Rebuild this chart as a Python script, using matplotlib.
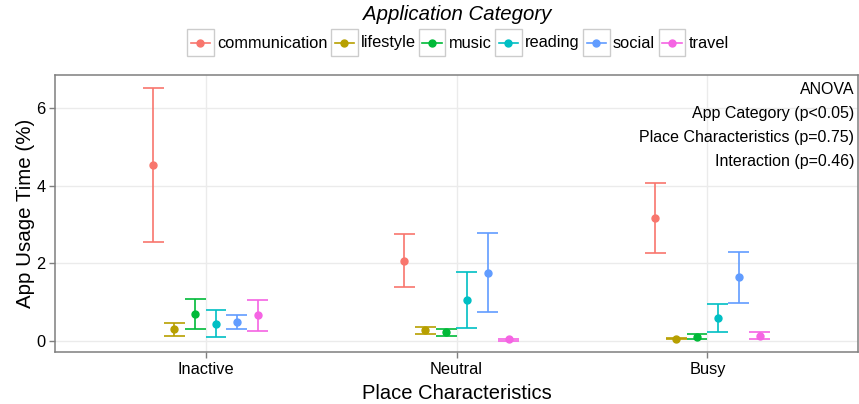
import matplotlib
matplotlib.use("Agg")
import matplotlib.pyplot as plt
from matplotlib.patches import Rectangle
import numpy as np

plt.rcParams['font.family'] = ['Liberation Sans', 'DejaVu Sans']

# Data (mean with lower / upper error bar)
places = ['Inactive', 'Neutral', 'Busy']
categories = ['communication', 'lifestyle', 'music', 'reading', 'social', 'travel']
colors = ['#F8766D', '#B79F00', '#00BA38', '#00BFC4', '#619CFF', '#F564E3']

means = {
    'communication': [4.53, 2.07, 3.17],
    'lifestyle':     [0.30, 0.28, 0.06],
    'music':         [0.70, 0.23, 0.11],
    'reading':       [0.44, 1.05, 0.59],
    'social':        [0.50, 1.76, 1.64],
    'travel':        [0.66, 0.04, 0.13],
}
lower = {
    'communication': [2.54, 1.39, 2.27],
    'lifestyle':     [0.14, 0.17, 0.04],
    'music':         [0.32, 0.14, 0.05],
    'reading':       [0.09, 0.33, 0.22],
    'social':        [0.32, 0.75, 0.99],
    'travel':        [0.26, 0.01, 0.04],
}
upper = {
    'communication': [6.52, 2.75, 4.07],
    'lifestyle':     [0.45, 0.37, 0.08],
    'music':         [1.08, 0.32, 0.17],
    'reading':       [0.79, 1.78, 0.96],
    'social':        [0.67, 2.78, 2.29],
    'travel':        [1.05, 0.06, 0.23],
}
anova_lines = ['ANOVA', 'App Category (p<0.05)',
               'Place Characteristics (p=0.75)', 'Interaction (p=0.46)']

W, H = 859, 404
fig = plt.figure(figsize=(W / 100, H / 100), dpi=100)
ax = fig.add_axes([55 / W, 1 - 352 / H, 803 / W, (352 - 74.5) / H])

# ggplot-like dodge, caps as wide as one dodge slot
n = len(categories)
dodge = 0.5 / n
x = np.arange(1, len(places) + 1)
for i, (cat, col) in enumerate(zip(categories, colors)):
    xs = x + (i - (n - 1) / 2) * dodge
    lo = np.array(lower[cat])
    hi = np.array(upper[cat])
    ax.vlines(xs, lo, hi, color=col, lw=1.2, zorder=3)
    ax.hlines(lo, xs - dodge / 2, xs + dodge / 2, color=col, lw=1.2, zorder=3)
    ax.hlines(hi, xs - dodge / 2, xs + dodge / 2, color=col, lw=1.2, zorder=3)
    ax.plot(xs, means[cat], 'o', color=col, ms=5, zorder=4)

ax.set_xlim(0.4, 3.6)
ax.set_ylim(-0.285, 6.87)
ax.set_xticks(x)
ax.set_xticklabels(places)
ax.set_yticks([0, 2, 4, 6])
ax.grid(True, color='#EBEBEB', lw=1.0, zorder=0)
ax.set_axisbelow(True)
for s in ax.spines.values():
    s.set_color('#7F7F7F')
    s.set_linewidth(1.1)
ax.tick_params(colors='#7F7F7F', labelcolor='black', labelsize=11.8,
               length=4, width=1.0, pad=3)
ax.set_xlabel('Place Characteristics', fontsize=14.5, labelpad=5)
ax.set_ylabel('App Usage Time (%)', fontsize=14.8, labelpad=1)

# ANOVA annotation in the top-right corner (pixel rows from the reference)
for k, line in enumerate(anova_lines):
    ax.text(3.585, (340.7 - (90 + 23.7 * k)) / 38.73, line,
            ha='right', va='center', fontsize=11.5)

# Legend drawn by hand, ggplot style boxes around each key
lg = fig.add_axes([0, 0, 1, 1])
lg.set_xlim(0, W)
lg.set_ylim(H, 0)
lg.axis('off')
lg.text(457.5, 14.5, 'Application Category', ha='center', va='center',
        fontsize=14.7, style='italic')
box_x = [187, 331, 418.5, 495, 583, 658.5]
for bx, cat, col in zip(box_x, categories, colors):
    lg.add_patch(Rectangle((bx, 29), 26.5, 26.5, fill=False, ec='#CCCCCC', lw=1.0))
    lg.plot([bx + 3.5, bx + 23], [42.5, 42.5], color=col, lw=1.2)
    lg.plot([bx + 13.25], [42.5], 'o', color=col, ms=5)
    lg.text(bx + 30, 43, cat, ha='left', va='center', fontsize=11.8)

fig.savefig('out.png', dpi=100)
